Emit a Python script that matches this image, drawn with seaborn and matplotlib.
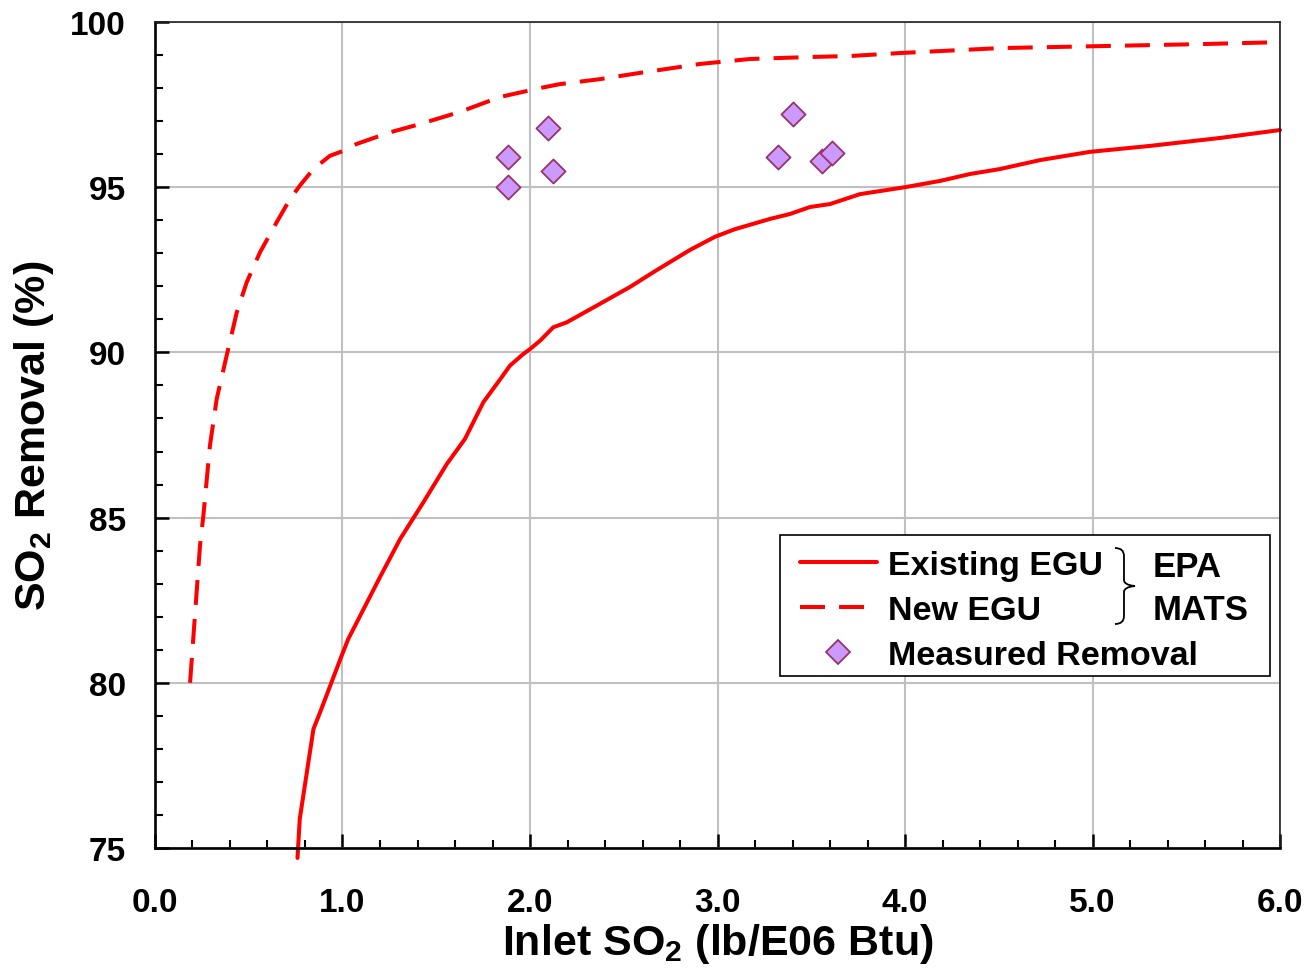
import seaborn as sns
import matplotlib.pyplot as plt
import pandas as pd
from matplotlib.lines import Line2D
from matplotlib.patches import Rectangle, PathPatch
from matplotlib.path import Path
from matplotlib.transforms import ScaledTranslation

# EPA MATS curve - existing EGU (solid)
existing_x = [0.76, 0.772, 0.845, 0.88, 0.992, 1.031, 1.2, 1.307, 1.431, 1.556, 1.653, 1.751, 1.849,
              1.893, 1.964, 2.0, 2.053, 2.124, 2.196, 2.373, 2.533, 2.667, 2.853, 2.987, 3.093,
              3.28, 3.387, 3.493, 3.6, 3.76, 4.0, 4.187, 4.347, 4.507, 4.72, 4.987, 5.307, 5.68, 6.0]
existing_y = [74.7, 75.88, 78.6, 79.1, 80.77, 81.33, 83.2, 84.35, 85.46, 86.62, 87.38, 88.49, 89.25,
              89.6, 89.95, 90.1, 90.35, 90.76, 90.91, 91.47, 91.98, 92.46, 93.1, 93.5, 93.73,
              94.04, 94.19, 94.4, 94.49, 94.79, 95.0, 95.19, 95.4, 95.55, 95.82, 96.07, 96.25, 96.49, 96.73]

# EPA MATS curve - new EGU (dashed)
new_x = [0.187, 0.24, 0.258, 0.293, 0.329, 0.382, 0.436, 0.489, 0.56, 0.649, 0.72, 0.773,
         0.845, 0.933, 1.004, 1.076, 1.253, 1.413, 1.627, 1.84, 2.053, 2.16, 2.373, 2.587,
         2.907, 3.173, 3.493, 3.707, 3.973, 4.507, 5.04, 5.573, 6.0]
new_y = [80.0, 84.15, 85.06, 87.18, 88.59, 89.9, 91.21, 92.12, 93.03, 93.94, 94.64, 95.05,
         95.55, 95.95, 96.1, 96.31, 96.66, 96.91, 97.28, 97.73, 98.0, 98.12, 98.27, 98.46,
         98.73, 98.88, 98.94, 98.97, 99.06, 99.21, 99.27, 99.33, 99.39]

# measured removal
meas_x = [1.883, 1.883, 2.096, 2.123, 3.323, 3.403, 3.557, 3.611]
meas_y = [95.91, 95.0, 96.79, 95.49, 95.91, 97.22, 95.79, 96.04]

x_ticks = [0.0, 1.0, 2.0, 3.0, 4.0, 5.0, 6.0]
y_ticks = [75, 80, 85, 90, 95, 100]

sns.set_style("white")
plt.rcParams['font.family'] = ['Liberation Sans', 'DejaVu Sans']
plt.rcParams['font.weight'] = 'bold'
plt.rcParams['text.color'] = 'black'
plt.rcParams['axes.labelcolor'] = 'black'
plt.rcParams['mathtext.fontset'] = 'custom'
plt.rcParams['mathtext.rm'] = 'Liberation Sans:bold'
plt.rcParams['mathtext.it'] = 'Liberation Sans:bold'
plt.rcParams['mathtext.bf'] = 'Liberation Sans:bold'
plt.rcParams['mathtext.default'] = 'rm'

existing = pd.DataFrame({'x': existing_x, 'y': existing_y})
new = pd.DataFrame({'x': new_x, 'y': new_y})
meas = pd.DataFrame({'x': meas_x, 'y': meas_y})

fig = plt.figure(figsize=(13.08, 9.70), dpi=100)
ax = fig.add_axes([0.1185, 0.1247, 0.8601, 0.8516])

sns.lineplot(data=existing, x='x', y='y', ax=ax, color='#ff0000', lw=2.9, sort=False)
ax.lines[-1].set_clip_on(False)
sns.lineplot(data=new, x='x', y='y', ax=ax, color='#ff0000', lw=2.9, sort=False)
ax.lines[-1].set_dashes((6.2, 3.5))
sns.scatterplot(data=meas, x='x', y='y', ax=ax, marker='D', s=150,
                color='#cc99ff', edgecolor='#993366', linewidth=1.3, zorder=5)

ax.set_xlim(0, 6)
ax.set_ylim(75, 100)
ax.set_xticks(x_ticks)
ax.set_xticklabels([f"{v:.1f}" for v in x_ticks])
ax.set_yticks(y_ticks)
ax.set_xticks([i * 0.2 for i in range(31)], minor=True)
ax.set_yticks(list(range(75, 101)), minor=True)
ax.grid(True, which='major', color='#c0c0c0', lw=1.5)
ax.set_axisbelow(True)

ax.tick_params(bottom=True, left=True, which='both')
ax.tick_params(axis='x', which='major', direction='in', length=10, width=1.8,
               labelsize=24, pad=28, color='black', labelcolor='black')
ax.tick_params(axis='y', which='major', direction='in', length=10, width=1.8,
               labelsize=24, pad=21, color='black', labelcolor='black')
ax.tick_params(which='minor', direction='in', length=6, width=1.5, color='black')

for side in ['left', 'bottom']:
    ax.spines[side].set_linewidth(1.9)
    ax.spines[side].set_color('black')
for side in ['top', 'right']:
    ax.spines[side].set_linewidth(1.2)
    ax.spines[side].set_color('#202020')

ax.set_xlabel('Inlet SO$_2$ (lb/E06 Btu)', fontsize=31, fontweight='bold', labelpad=2)
ax.set_ylabel('SO$_2$ Removal (%)', fontsize=31, fontweight='bold', labelpad=10)

handles = [
    Line2D([], [], color='#ff0000', lw=2.9),
    Line2D([], [], color='#ff0000', lw=2.9, dashes=(6.2, 3.5)),
    Line2D([], [], marker='D', ls='none', markersize=12, markerfacecolor='#cc99ff',
           markeredgecolor='#993366', markeredgewidth=1.3),
]
labels = ['Existing EGU', 'New EGU', 'Measured Removal']
leg = ax.legend(handles, labels, loc='upper left', bbox_to_anchor=(0.5733, 0.3608),
                frameon=False, handlelength=2.25, handletextpad=0.35,
                labelspacing=0.41, borderpad=0, borderaxespad=0,
                prop={'weight': 'bold', 'size': 24.5})
ax.add_patch(Rectangle((0.5556, 0.2082), 0.4354, 0.1708, transform=ax.transAxes,
                       fill=True, facecolor='white', edgecolor='black', lw=1.2, zorder=6))
leg.set_zorder(7)

# thin curly brace grouping the two EPA MATS curves (pixel offsets around its tip)
brace = Path([(-10, 38), (-1, 38), (-1, 30), (-1, 6), (-1, 1), (10, 0),
              (-1, -1), (-1, -6), (-1, -30), (-1, -38), (-10, -38)],
             [Path.MOVETO, Path.CURVE3, Path.CURVE3, Path.LINETO, Path.CURVE3, Path.CURVE3,
              Path.CURVE3, Path.CURVE3, Path.LINETO, Path.CURVE3, Path.CURVE3])
ax.add_patch(PathPatch(brace, fill=False, edgecolor='black', lw=1.3, zorder=8,
                       transform=ScaledTranslation(0.8622, 0.3172, ax.transAxes)))
ax.text(0.887, 0.3414, 'EPA', transform=ax.transAxes, fontsize=25, fontweight='bold',
        ha='left', va='center', zorder=8)
ax.text(0.887, 0.2893, 'MATS', transform=ax.transAxes, fontsize=25, fontweight='bold',
        ha='left', va='center', zorder=8)

fig.savefig('out.png', dpi=100)
